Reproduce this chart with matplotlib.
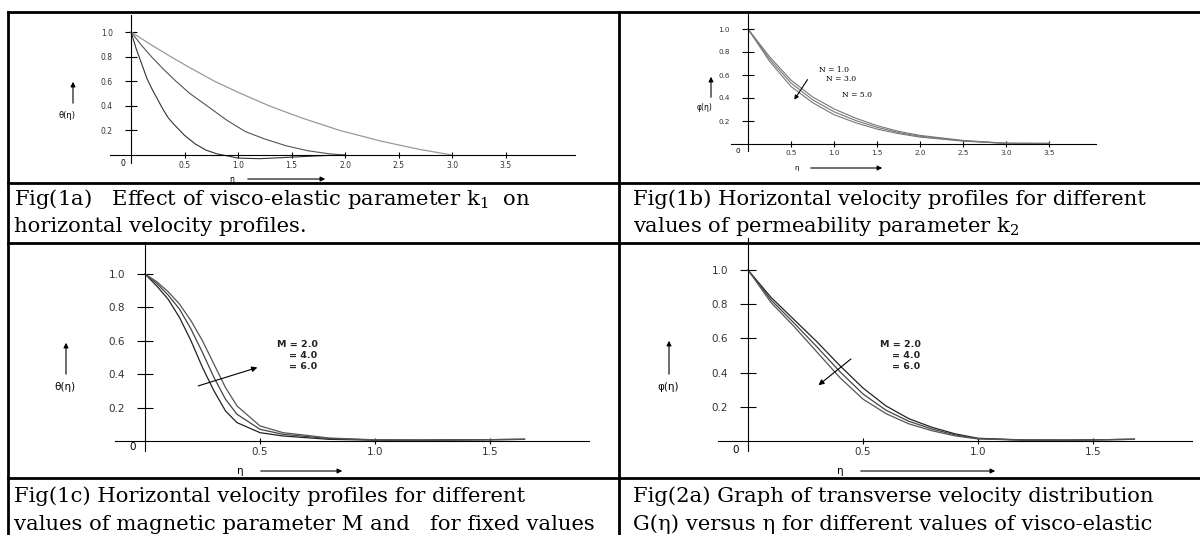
import numpy as np
import matplotlib
matplotlib.use('Agg')
import matplotlib.pyplot as plt
from matplotlib.lines import Line2D

# ---- values ----
# Fig 1a: three k1 profiles
eta_1a_fast = [0, 0.05, 0.1, 0.15, 0.2, 0.25, 0.3, 0.35, 0.4, 0.5, 0.6, 0.7, 0.8, 1.0, 1.2, 1.4, 1.6, 1.8, 2.0]
f_1a_fast = [1.0, 0.86, 0.74, 0.62, 0.53, 0.45, 0.37, 0.3, 0.25, 0.16, 0.09, 0.04, 0.01, -0.025, -0.03, -0.022, -0.013, -0.005, 0.0]
eta_1a_mid = [0, 0.1, 0.19, 0.3, 0.42, 0.55, 0.71, 0.9, 1.07, 1.25, 1.45, 1.65, 1.85, 2.0]
f_1a_mid = [1.0, 0.89, 0.8, 0.7, 0.6, 0.5, 0.4, 0.28, 0.19, 0.13, 0.075, 0.035, 0.01, 0.0]
eta_1a_slow = [0, 0.2, 0.37, 0.55, 0.78, 1.0, 1.29, 1.6, 1.95, 2.35, 2.7, 3.0]
f_1a_slow = [1.0, 0.89, 0.8, 0.71, 0.6, 0.51, 0.4, 0.3, 0.2, 0.11, 0.045, 0.0]

# Fig 1b: N = 1.0, 3.0, 5.0
eta_1b = [0, 0.25, 0.5, 0.75, 1.0, 1.25, 1.5, 1.75, 2.0, 2.5, 3.0, 3.5]
f_1b = [
    [1.0, 0.76, 0.555, 0.41, 0.305, 0.225, 0.16, 0.11, 0.075, 0.031, 0.007, 0.005],
    [1.0, 0.74, 0.53, 0.385, 0.28, 0.205, 0.145, 0.10, 0.068, 0.028, 0.006, 0.005],
    [1.0, 0.72, 0.50, 0.36, 0.255, 0.185, 0.13, 0.09, 0.06, 0.025, 0.005, 0.005],
]
labels_1b = ['N = 1.0', 'N = 3.0', 'N = 5.0']

# Fig 1c: M = 2.0, 4.0, 6.0
eta_1c = [0, 0.05, 0.1, 0.15, 0.2, 0.25, 0.3, 0.35, 0.4, 0.5, 0.6, 0.8, 1.0, 1.2, 1.5, 1.65]
f_1c = [
    [1.0, 0.93, 0.85, 0.74, 0.6, 0.44, 0.3, 0.18, 0.11, 0.05, 0.03, 0.01, 0.005, 0.005, 0.008, 0.01],
    [1.0, 0.945, 0.875, 0.79, 0.67, 0.53, 0.38, 0.25, 0.16, 0.07, 0.04, 0.015, 0.006, 0.005, 0.008, 0.01],
    [1.0, 0.955, 0.895, 0.82, 0.72, 0.6, 0.46, 0.32, 0.21, 0.09, 0.05, 0.018, 0.007, 0.005, 0.008, 0.01],
]

# Fig 2a: M = 2.0, 4.0, 6.0
eta_2a = [0, 0.1, 0.2, 0.3, 0.4, 0.5, 0.6, 0.7, 0.8, 0.9, 1.0, 1.2, 1.4, 1.68]
f_2a = [
    [1.0, 0.84, 0.71, 0.58, 0.44, 0.31, 0.205, 0.13, 0.08, 0.042, 0.016, 0.006, 0.005, 0.01],
    [1.0, 0.825, 0.69, 0.55, 0.405, 0.275, 0.18, 0.115, 0.07, 0.036, 0.014, 0.005, 0.005, 0.01],
    [1.0, 0.81, 0.67, 0.52, 0.37, 0.245, 0.16, 0.10, 0.06, 0.03, 0.012, 0.005, 0.005, 0.01],
]
labels_M = ['M = 2.0', '= 4.0', '= 6.0']

captions = {
    '1a': ['Fig(1a)   Effect of visco-elastic parameter k$\\mathregular{_1}$  on',
           'horizontal velocity profiles.'],
    '1b': ['Fig(1b) Horizontal velocity profiles for different',
           'values of permeability parameter k$\\mathregular{_2}$'],
    '1c': ['Fig(1c) Horizontal velocity profiles for different',
           'values of magnetic parameter M and   for fixed values'],
    '2a': ['Fig(2a) Graph of transverse velocity distribution',
           'G(\u03b7) versus \u03b7 for different values of visco-elastic'],
}

W, H = 1200, 535
fig = plt.figure(figsize=(12, 5.35), dpi=100)
SANS = 'DejaVu Sans'
SERIF = 'DejaVu Serif'


def box(l, t, r, b):
    return [l / W, 1 - b / H, (r - l) / W, (b - t) / H]


def panel(cell, origin, xs, ys, xb, yb, xticks, fs, ylen):
    l, t, r, b = cell
    ox, oy = origin
    ax = fig.add_axes(box(l, t, r, b))
    ax.set_xlim((l - ox) / xs, (r - ox) / xs)
    ax.set_ylim((oy - b) / ys, (oy - t) / ys)
    ax.patch.set_alpha(0)
    for s in ['top', 'right']:
        ax.spines[s].set_visible(False)
    ax.spines['left'].set_position(('data', 0))
    ax.spines['bottom'].set_position(('data', 0))
    ax.spines['left'].set_bounds(*yb)
    ax.spines['bottom'].set_bounds(*xb)
    for s in ['left', 'bottom']:
        ax.spines[s].set_linewidth(0.8)
    ax.set_xticks(xticks)
    ax.set_xticklabels([f'{v:.1f}' for v in xticks], fontsize=fs, family=SANS, color='#333')
    ax.set_yticks([0.2, 0.4, 0.6, 0.8, 1.0])
    ax.set_yticklabels(['0.2', '0.4', '0.6', '0.8', '1.0'], fontsize=fs, family=SANS, color='#333')
    ax.tick_params(axis='y', direction='inout', length=ylen, width=0.8, pad=9)
    ax.tick_params(axis='x', direction='inout', length=4, width=0.8, pad=2)
    return ax


def farrow(x0, y0, x1, y1):
    fig.add_artist(matplotlib.patches.FancyArrowPatch(
        (x0 / W, 1 - y0 / H), (x1 / W, 1 - y1 / H), transform=fig.transFigure,
        arrowstyle='-|>', mutation_scale=7, lw=0.8, color='black'))


def ftext(x, y, s, **kw):
    fig.text(x / W, 1 - y / H, s, **kw)


# ---- Fig 1a ----
ax = panel((8, 12, 619, 183), (131, 155), 107, 123, (-0.2, 4.15), (-0.065, 1.14),
           [0.5, 1.0, 1.5, 2.0, 2.5, 3.0, 3.5], 5.5, 8)
ax.plot(eta_1a_fast, f_1a_fast, color='#333333', lw=0.8)
ax.plot(eta_1a_mid, f_1a_mid, color='#555555', lw=0.8)
ax.plot(eta_1a_slow, f_1a_slow, color='#999999', lw=0.9)
ftext(123, 163, '0', fontsize=5.5, family=SANS, ha='center', va='center')
ftext(232, 179, '\u03b7', fontsize=5.5, family=SANS, ha='center', va='center')
farrow(245, 179, 328, 179)
ftext(67, 116, '\u03b8(\u03b7)', fontsize=6, family=SANS, ha='center', va='center')
farrow(73, 106, 73, 79)

# ---- Fig 1b ----
ax = panel((619, 12, 1200, 183), (748, 144), 86, 115, (-0.2, 4.05), (-0.06, 1.15),
           [0.5, 1.0, 1.5, 2.0, 2.5, 3.0, 3.5], 5.2, 8)
for ys_ in f_1b:
    ax.plot(eta_1b, ys_, color='#777777', lw=0.8)
ax.annotate('', xy=(0.52, 0.365), xytext=(0.71, 0.58),
            arrowprops=dict(arrowstyle='-|>', mutation_scale=6, lw=0.8, color='black'))
for lab, xx, yy in zip(labels_1b, [0.82, 0.91, 1.09], [0.64, 0.565, 0.43]):
    ax.text(xx, yy, lab, fontsize=5.5, family=SERIF, va='center')
ftext(738, 151, '0', fontsize=5.2, family=SANS, ha='center', va='center')
ftext(797, 168, '\u03b7', fontsize=5.2, family=SANS, ha='center', va='center')
farrow(808, 168, 885, 168)
ftext(705, 108, '\u03c6(\u03b7)', fontsize=5.5, family=SANS, ha='center', va='center')
farrow(711, 100, 711, 74)

# ---- Fig 1c ----
ax = panel((8, 243, 619, 478), (145, 441), 230, 167, (-0.13, 1.93), (-0.06, 1.19),
           [0.5, 1.0, 1.5], 7.5, 11)
for ys_, c in zip(f_1c, ['#222222', '#444444', '#555555']):
    ax.plot(eta_1c, ys_, color=c, lw=0.9)
ax.annotate('', xy=(0.5, 0.445), xytext=(0.22, 0.325),
            arrowprops=dict(arrowstyle='-|>', mutation_scale=8, lw=0.8, color='black'))
for lab, yy in zip(labels_M, [0.575, 0.51, 0.445]):
    ax.text(0.75, yy, lab, fontsize=6.8, family=SANS, weight='bold', ha='right', va='center', color='#222')
ftext(133, 447, '0', fontsize=7.5, family=SANS, ha='center', va='center')
ftext(240, 471, '\u03b7', fontsize=7.5, family=SANS, ha='center', va='center')
farrow(258, 471, 345, 471)
ftext(65, 387, '\u03b8(\u03b7)', fontsize=7.5, family=SANS, ha='center', va='center')
farrow(66, 377, 66, 340)

# ---- Fig 2a ----
ax = panel((619, 243, 1200, 478), (748, 441), 230, 171, (-0.13, 1.93), (-0.06, 1.19),
           [0.5, 1.0, 1.5], 7.5, 11)
for ys_, c in zip(f_2a, ['#222222', '#444444', '#555555']):
    ax.plot(eta_2a, ys_, color=c, lw=0.9)
ax.annotate('', xy=(0.297, 0.316), xytext=(0.457, 0.49),
            arrowprops=dict(arrowstyle='-|>', mutation_scale=8, lw=0.8, color='black'))
for lab, yy in zip(labels_M, [0.565, 0.5, 0.435]):
    ax.text(0.75, yy, lab, fontsize=6.8, family=SANS, weight='bold', ha='right', va='center', color='#222')
ftext(736, 450, '0', fontsize=7.5, family=SANS, ha='center', va='center')
ftext(840, 471, '\u03b7', fontsize=7.5, family=SANS, ha='center', va='center')
farrow(858, 471, 998, 471)
ftext(668, 387, '\u03c6(\u03b7)', fontsize=7.5, family=SANS, ha='center', va='center')
farrow(669, 377, 669, 338)

# ---- table rules ----
rules = [((8, 12), (1200, 12)), ((8, 183), (1200, 183)), ((8, 243), (1200, 243)),
         ((8, 478), (1200, 478)), ((8, 12), (8, 535)), ((619, 12), (619, 535))]
for (x0, y0), (x1, y1) in rules:
    fig.add_artist(Line2D([x0 / W, x1 / W], [1 - y0 / H, 1 - y1 / H],
                          transform=fig.transFigure, color='black', lw=2.0))

# ---- captions ----
for key, (cx, cy) in {'1a': (14, 199), '1b': (633, 199), '1c': (14, 496), '2a': (633, 496)}.items():
    for i, line in enumerate(captions[key]):
        ftext(cx, cy + i * 28, line, fontsize=15.2, family=SERIF, va='center')

fig.savefig('out.png', dpi=100)
